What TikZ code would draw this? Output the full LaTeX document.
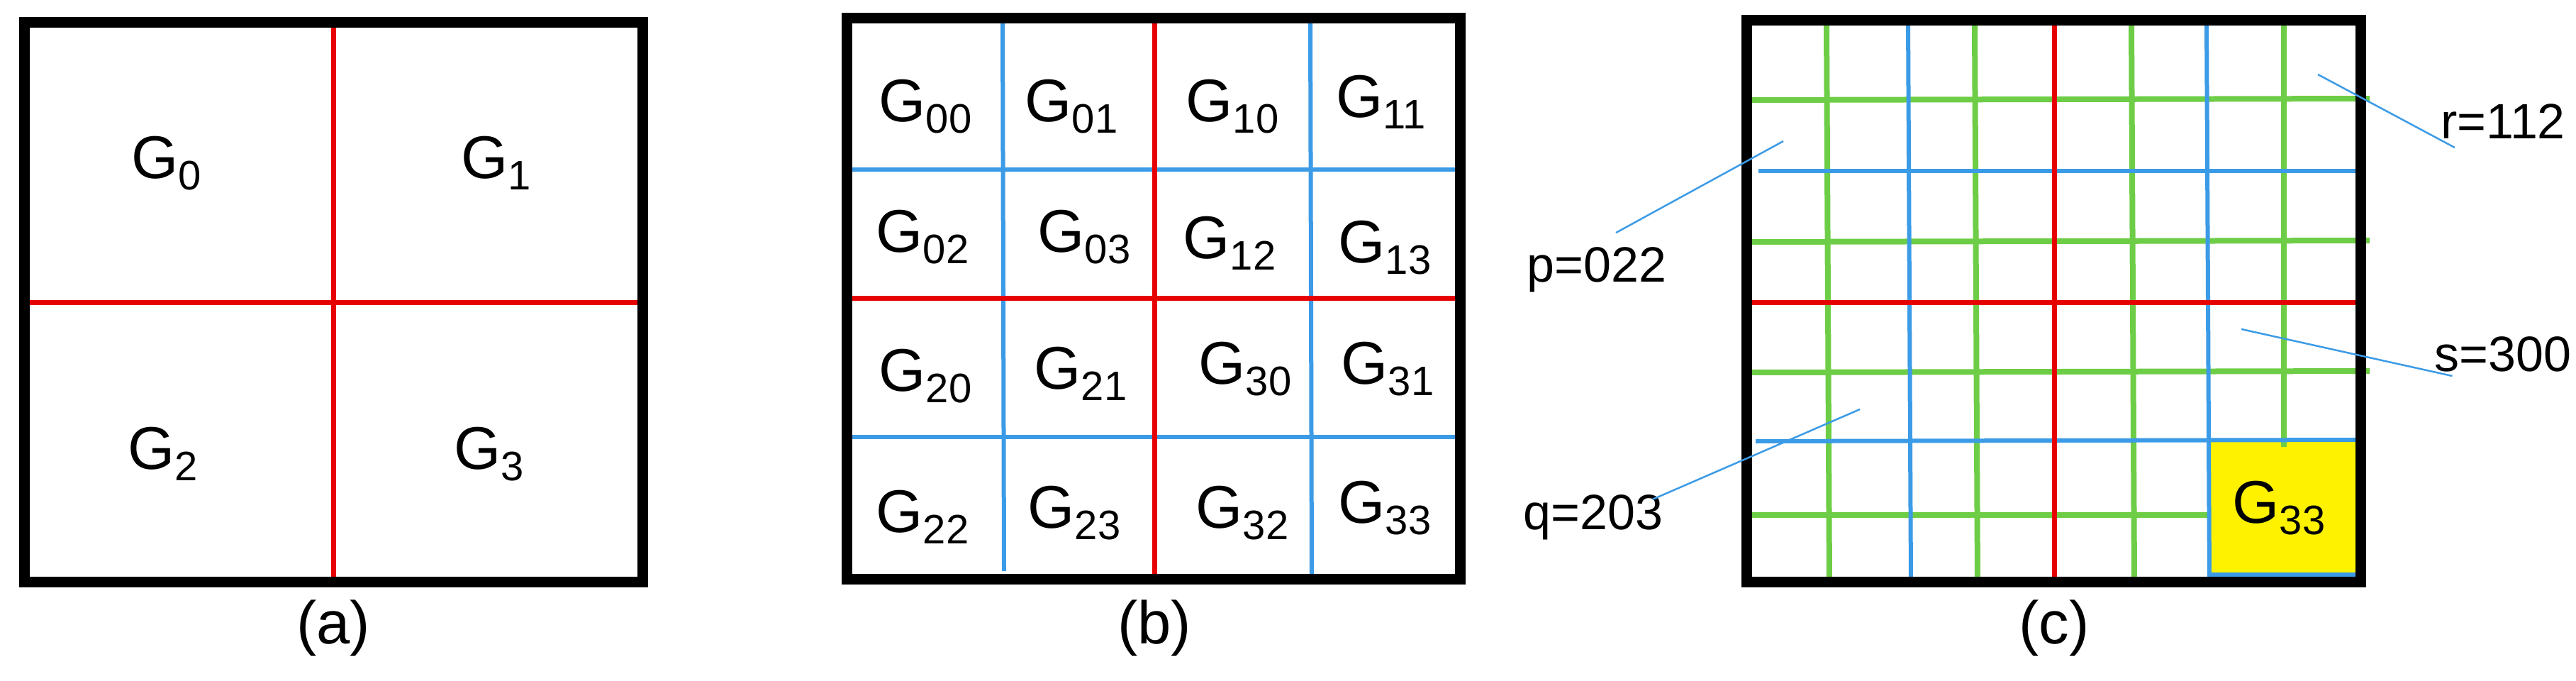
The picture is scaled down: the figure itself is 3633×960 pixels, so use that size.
\documentclass[tikz,border=0pt]{standalone}
\usepackage{fontspec}
\setmainfont{Liberation Sans}
\begin{document}
\begin{tikzpicture}[x=1pt,y=-1pt,
  frame/.style={draw=black,line width=15pt},
  redl/.style={draw={rgb,255:red,230;green,0;blue,0},line width=7pt},
  bluel/.style={draw={rgb,255:red,60;green,155;blue,230},line width=6pt},
  greenl/.style={draw={rgb,255:red,110;green,205;blue,70},line width=8pt},
  lead/.style={draw={rgb,255:red,60;green,155;blue,230},line width=2.5pt},
  lbl/.style={font=\fontsize{85}{90}\selectfont,inner sep=0pt},
  txt/.style={font=\fontsize{70}{76}\selectfont,inner sep=0pt}]
\newcommand{\gsub}[1]{G\raisebox{-16pt}{\fontsize{58}{60}\selectfont #1}}
\useasboundingbox (0,0) rectangle (3633,960);
% (a)
\draw[redl] (470,32) -- (470,820);
\draw[redl] (34,426) -- (906,426);
\draw[frame] (34.5,32) rectangle (906.5,820);
\node[lbl] (a0) at (235,230) {\gsub{0}};
\node[lbl] (a1) at (700,230) {\gsub{1}};
\node[lbl] (a2) at (230,640) {\gsub{2}};
\node[lbl] (a3) at (690,640) {\gsub{3}};
\node[lbl] (la) at (470,885) {(a)};
% (b)
\draw[bluel] (1414,25) -- (1416,805);
\draw[bluel] (1848,25) -- (1850,816);
\draw[bluel] (1194,239) -- (2059,239);
\draw[bluel] (1198,616) -- (2059,616);
\draw[redl] (1628,25) -- (1628,816);
\draw[redl] (1194,420) -- (2059,420);
\draw[frame] (1194.5,25.5) rectangle (2059.5,816.5);
\node[lbl] (g00) at (1305,150) {\gsub{00}};
\node[lbl] (g01) at (1511,150) {\gsub{01}};
\node[lbl] (g10) at (1738,150) {\gsub{10}};
\node[lbl] (g11) at (1948,144) {\gsub{11}};
\node[lbl] (g02) at (1301,334) {\gsub{02}};
\node[lbl] (g03) at (1529,334) {\gsub{03}};
\node[lbl] (g12) at (1734,343) {\gsub{12}};
\node[lbl] (g13) at (1953,349) {\gsub{13}};
\node[lbl] (g20) at (1305,530) {\gsub{20}};
\node[lbl] (g21) at (1524,527) {\gsub{21}};
\node[lbl] (g30) at (1756,520) {\gsub{30}};
\node[lbl] (g31) at (1957,520) {\gsub{31}};
\node[lbl] (g22) at (1301,729) {\gsub{22}};
\node[lbl] (g23) at (1515,723) {\gsub{23}};
\node[lbl] (g32) at (1752,723) {\gsub{32}};
\node[lbl] (g33) at (1953,716) {\gsub{33}};
\node[lbl] (lb) at (1628,885) {(b)};
% (c)
\fill[yellow] (3118,622) rectangle (3323,811);
\foreach \x in {2576,2785,3006} \draw[greenl] (\x,36) -- (\x+4,820);
\draw[greenl] (3221,36) -- (3221,630);
\foreach \y in {141,341,525} \draw[greenl] (2468,\y) -- (3342,\y-2);
\draw[greenl] (2462,726) -- (3118,726);
\foreach \x in {2691,3112} \draw[bluel] (\x,28) -- (\x+4,820);
\draw[bluel] (2480,241) -- (3330,241);
\draw[bluel] (2476,622) -- (3330,620);
\draw[bluel] (3118,810) -- (3323,810);
\draw[redl] (2897,28) -- (2897,820);
\draw[redl] (2464,426) -- (3330,426);
\draw[frame] (2463.5,28.5) rectangle (3329.5,820.5);
\node[lbl] (c33) at (3214,716) {\gsub{33}};
\node[lbl] (lc) at (2897,885) {(c)};
\node[txt] (p) at (2252,380) {p=022};
\node[txt] (q) at (2247,729) {q=203};
\node[txt] (r) at (3530,171) {r=112};
\node[txt] (s) at (3530,499) {s=300};
\coordinate (pe) at (2515,199);
\coordinate (qe) at (2623,577);
\coordinate (re) at (3269,105);
\coordinate (se) at (3161,464);
\draw[lead] (p.north) ++(27,-20) -- (pe);
\draw[lead] (q.east) ++(-15,-25) -- (qe);
\draw[lead] (r.west) ++(20,37) -- (re);
\draw[lead] (s.west) ++(25,31) -- (se);
\end{tikzpicture}
\end{document}
